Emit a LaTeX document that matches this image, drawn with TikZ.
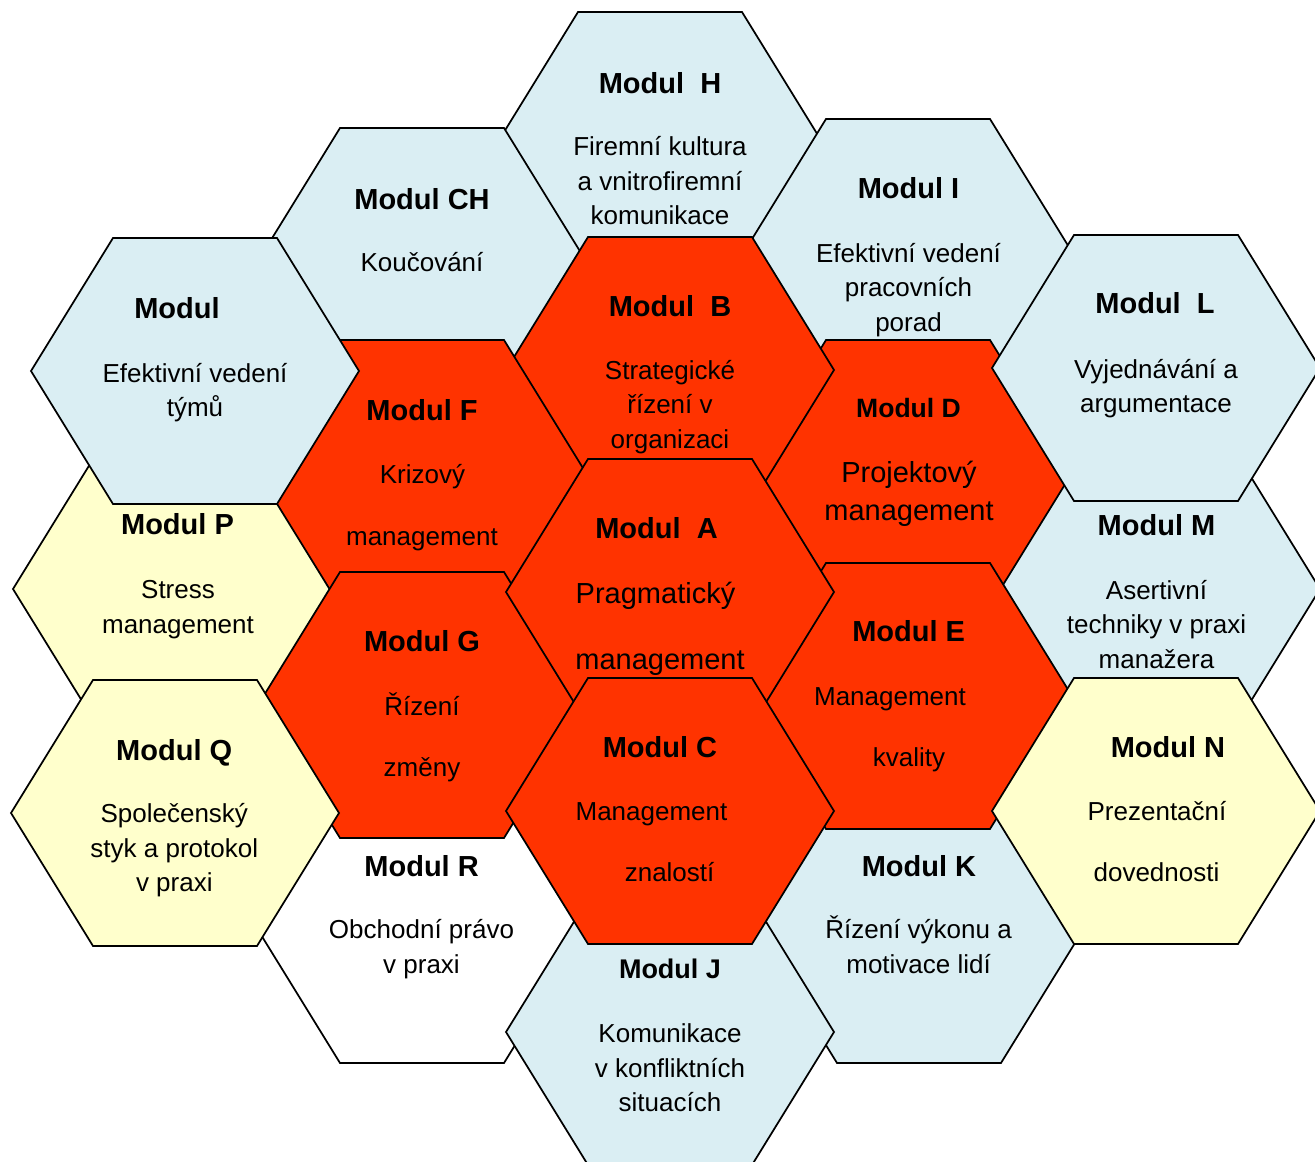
\documentclass[tikz,border=0pt]{standalone}
\usepackage{fontspec}
\setmainfont{Liberation Sans}

\definecolor{cellblue}{HTML}{DAEEF3}
\definecolor{cellyellow}{HTML}{FFFFCC}
\definecolor{cellred}{HTML}{FF3300}

% one cell of the honeycomb, centred at (#1,#2)
\newcommand{\honeycell}[3]{%
  \filldraw[#3] (#1,#2) ++(-164,0) -- ++(82,-133) -- ++(164,0)
    -- ++(82,133) -- ++(-82,133) -- ++(-164,0) -- cycle;}

\begin{document}
\begin{tikzpicture}[x=0.75pt,y=-0.75pt,
             bluecell/.style={draw=black, line width=1.3pt, fill=cellblue},
             yellowcell/.style={draw=black, line width=1.3pt, fill=cellyellow},
             redcell/.style={draw=black, line width=1.3pt, fill=cellred},
             whitecell/.style={draw=black, line width=1.3pt, fill=white},
             modname/.style={anchor=base, inner sep=0pt,
                font=\bfseries\fontsize{21.75}{26}\selectfont},
             modtext/.style={anchor=base, inner sep=0pt, align=center,
                font=\fontsize{19.5}{25.9}\selectfont},
             bigtext/.style={modtext, font=\fontsize{21.75}{28.5}\selectfont},
          ]

          \clip (0,0) rectangle (1315,1162);

          \honeycell{660}{145}{bluecell}
          \node at (660,93.3) (mH) [modname] {Modul\ \ H};
          \node at (660,225) (tH) [modtext] {Firemní kultura\\a vnitrofiremní\\komunikace};

          \honeycell{177}{589}{yellowcell}
          \node at (177.5,535) (mP) [modname] {Modul P};
          \node at (178,633.3) (tP) [modtext] {Stress\\management};

          \honeycell{1156}{589}{bluecell}
          \node at (1156.5,536) (mM) [modname] {Modul M};
          \node at (1156.5,668.3) (tM) [modtext] {Asertivní\\techniky v praxi\\manažera};

          \honeycell{908}{252}{bluecell}
          \node at (908.5,199) (mI) [modname] {Modul I};
          \node at (908.5,331.3) (tI) [modtext] {Efektivní vedení\\pracovních\\porad};

          \honeycell{422}{261}{bluecell}
          \node at (422,209.3) (mCH) [modname] {Modul CH};
          \node at (422,271.7) (tCH) [modtext] {Koučování};

          \honeycell{908}{473}{redcell}
          \node at (908.5,417.7) (mD) [modname, font=\bfseries\fontsize{19.9}{24}\selectfont] {Modul D};
          \node at (909,521) (tD) [bigtext] {Projektový\\management};

          \honeycell{919}{930}{bluecell}
          \node at (919,876) (mK) [modname] {Modul K};
          \node at (918.6,973) (tK) [modtext] {Řízení výkonu a\\motivace lidí};

          \honeycell{908}{696}{redcell}
          \node at (908.7,641.7) (mE) [modname] {Modul E};
          \node at (890,705.7) (tE) [modtext] {Management};
          \node at (909,766.7) (tE2) [modtext] {kvality};

          \honeycell{422}{930}{whitecell}
          \node at (421.6,876) (mR) [modname] {Modul R};
          \node at (421.5,973) (tR) [modtext] {Obchodní právo\\v praxi};

          \honeycell{670}{1032}{bluecell}
          \node at (670,978.3) (mJ) [modname, font=\bfseries\fontsize{20.25}{24}\selectfont] {Modul J};
          \node at (670,1111.7) (tJ) [modtext] {Komunikace\\v konfliktních\\situacích};

          \honeycell{1156}{368}{bluecell}
          \node at (1155,313.3) (mL) [modname] {Modul\ \ L};
          \node at (1156,412.8) (tL) [modtext] {Vyjednávání a\\argumentace};

          \honeycell{1156}{811}{yellowcell}
          \node at (1168,757) (mN) [modname] {Modul N};
          \node at (1157,820.7) (tN) [modtext] {Prezentační};
          \node at (1156.5,881) (tN2) [modtext] {dovednosti};

          \honeycell{670}{370}{redcell}
          \node at (670,317) (mB) [modname] {Modul\ \ B};
          \node at (670,448.3) (tB) [modtext] {Strategické\\řízení v\\organizaci};

          \honeycell{422}{473}{redcell}
          \node at (422,420.7) (mF) [modname] {Modul F};
          \node at (422.5,484) (tF) [modtext] {Krizový};
          \node at (422,546) (tF2) [modtext] {management};

          \honeycell{195}{371}{bluecell}
          \node at (177,319) (mT) [modname] {Modul};
          \node at (195,416.7) (tT) [modtext] {Efektivní vedení\\týmů};

          \honeycell{422}{705}{redcell}
          \node at (422,651.7) (mG) [modname] {Modul G};
          \node at (422,715.7) (tG) [modtext] {Řízení};
          \node at (422,776.7) (tG2) [modtext] {změny};

          \honeycell{175}{813}{yellowcell}
          \node at (174.2,760) (mQ) [modname] {Modul Q};
          \node at (174.3,891.7) (tQ) [modtext] {Společenský\\styk a protokol\\v praxi};

          \honeycell{670}{592}{redcell}
          \node at (656.5,538.3) (mA) [modname] {Modul\ \ A};
          \node at (655.5,603.3) (tA) [bigtext] {Pragmatický};
          \node at (660,669.3) (tA2) [bigtext] {management};

          \honeycell{670}{811}{redcell}
          \node at (660,757) (mC) [modname] {Modul C};
          \node at (651.5,820.7) (tC) [modtext] {Management};
          \node at (669.6,881) (tC2) [modtext] {znalostí};

       \end{tikzpicture}
\end{document}
